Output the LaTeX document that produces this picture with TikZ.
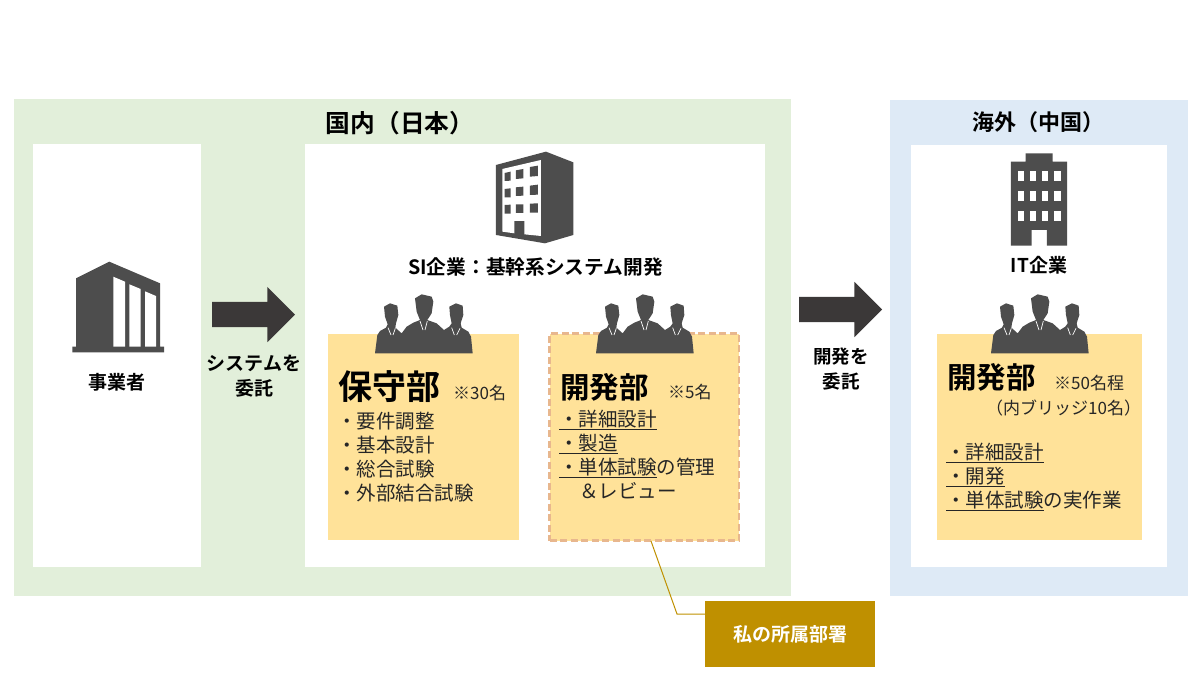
\documentclass[tikz,border=0pt]{standalone}
\usepackage{fontspec}
\setmainfont{Noto Sans CJK JP}[BoldFont={Noto Sans CJK JP Bold}]
\usetikzlibrary{shapes.arrows}
\definecolor{grnbg}{HTML}{E2EFDA}
\definecolor{blubg}{HTML}{DEEAF6}
\definecolor{yel}{HTML}{FFE299}
\definecolor{icon}{HTML}{4D4D4D}
\definecolor{arrowc}{HTML}{3B3838}
\definecolor{gold}{HTML}{BF9000}
\definecolor{dashc}{HTML}{E8B78E}
\newcommand\ulp[1]{\setbox0\hbox{#1}\rlap{\vrule height -2.2pt depth 3.4pt width \wd0}\box0}
\tikzset{
  panel/.style={fill=#1,draw=none,inner sep=0,outer sep=0,anchor=north west},
  rg/.style={font=\fontsize{#1}{#1}\selectfont,inner sep=0,text=black!85},
  bd/.style={font=\bfseries\fontsize{#1}{#1}\selectfont,inner sep=0,text=black},
  blockarrow/.style={single arrow,fill=arrowc,draw=none,inner xsep=0,inner ysep=12.5pt,outer sep=0,minimum width=55pt,minimum height=83pt,
    single arrow head extend=15pt,single arrow head indent=0pt,anchor=tail},
  listblock/.style={rg=19.5,anchor=north west,align=left,font=\fontsize{19.5}{24}\selectfont},
  leader/.style={draw=gold,line width=1pt},
  pics/people/.style={code={
    \begin{scope}[x=.3333pt,y=-.3333pt,shift={(-15,-27)}]
    \fill[icon] (15,205) -- (22,150) -- (30,138) -- (48,128) -- (53,118) -- (45,95) -- (42,65) -- (60,55) -- (82,62)
      -- (85,90) -- (78,115) -- (76,128) -- (95,145) -- (110,125) -- (130,113) -- (150,105) -- (140,80) -- (135,40)
      -- (155,28) -- (185,35) -- (190,50) -- (185,85) -- (172,105) -- (200,115) -- (222,135) -- (238,125) -- (245,115)
      -- (240,90) -- (238,65) -- (258,55) -- (278,62) -- (280,90) -- (272,115) -- (275,128) -- (295,140) -- (303,155)
      -- (308,205) -- cycle;
    \draw[white,line width=.7pt] (54,128) -- (63,150) (76,130) -- (69,150)
      (150,108) -- (159,135) (172,108) -- (165,135)
      (245,128) -- (253,150) (270,130) -- (260,150);
    \end{scope}
  }}
}
\begin{document}
\begin{tikzpicture}[x=1pt,y=-1pt]
\useasboundingbox (0,0) rectangle (1200,675);
% panels
\fill[grnbg] (14,99) rectangle (791,596);
\fill[blubg] (890,100) rectangle (1188,596);
\fill[white] (33,144) rectangle (201,567);
\fill[white] (305,144) rectangle (765,567);
\fill[white] (911,145) rectangle (1167,567);
\node[panel=yel,minimum width=191pt,minimum height=206pt] (maint) at (328,334) {};
\node[panel=yel,minimum width=189.5pt,minimum height=207pt,draw=dashc,line width=2.6pt,dash pattern=on 7pt off 3.5pt] (dev) at (549.5,333.5) {};
\node[panel=yel,minimum width=205pt,minimum height=206pt] (devcn) at (937,334) {};
\node[panel=gold,minimum width=170pt,minimum height=66pt] (mine) at (705,601) {};
% leader
\coordinate (ldstart) at (651,541);
\coordinate (ldbend) at (677,614);
\draw[leader] (ldstart) -- (ldbend) -- (ldbend -| mine.west);
% arrows
\node[blockarrow] (arrA) at (212,314.5) {};
\node[blockarrow] (arrB) at (799,309.5) {};
% building left
\fill[icon] (76,278.3) -- (109.3,261.7) -- (160,283.3) -- (160,346.7) -- (164,346.7) -- (164,352.3) -- (72.3,352.3) -- (72.3,346.7) -- (76,346.7) -- cycle;
\fill[white] (113.3,276.7) -- (125,281.7) -- (125,346.7) -- (113.3,346.7) -- cycle
  (129.3,284.3) -- (140.7,289) -- (140.7,346.7) -- (129.3,346.7) -- cycle
  (145,291.3) -- (156,296) -- (156,346.7) -- (145,346.7) -- cycle;
% building centre
\begin{scope}[x=.3333pt,y=-.3333pt,shift={(1410,435)}]
\fill[icon] (78,60) -- (228,20) -- (310,52) -- (310,270) -- (225,295) -- (78,270) -- cycle;
\fill[white] (97,72) -- (213,45) -- (213,273) -- (163,268) -- (163,228) -- (133,228) -- (133,265) -- (97,260) -- cycle;
\fill[icon] (104,84) -- (122,80) -- (122,107) -- (104,108) -- cycle
 (138,76) -- (160,72) -- (160,100) -- (138,102) -- cycle
 (180,66) -- (204,62) -- (204,93) -- (180,95) -- cycle
 (104,132) -- (122,130) -- (122,157) -- (104,157) -- cycle
 (138,127) -- (160,125) -- (160,152) -- (138,153) -- cycle
 (180,122) -- (204,119) -- (204,149) -- (180,150) -- cycle
 (104,180) -- (122,179) -- (122,206) -- (104,206) -- cycle
 (138,178) -- (160,178) -- (160,204) -- (138,204) -- cycle
 (180,176) -- (204,175) -- (204,203) -- (180,203) -- cycle;
\end{scope}
% building right
\begin{scope}[x=.3333pt,y=-.3333pt,shift={(2760,420)}]
\fill[icon] (273,65) -- (317,65) -- (317,40) -- (398,40) -- (398,65) -- (442,65) -- (442,317) -- (381,317) -- (381,270) -- (335,270) -- (335,317) -- (273,317) -- cycle;
\foreach \yy in {92,152,212}{
 \foreach \xa/\xb in {293/313,331/349,366/385,403/422}{
  \fill[white] (\xa,\yy) rectangle (\xb,\yy+31);
 }}
\end{scope}
% people
\pic (pplA) at (375,294) {people};
\pic (pplB) at (596,294) {people};
\pic (pplC) at (991,294) {people};
% headings
\node[bd=24.7] (tDom) at (400,123) {国内（日本）};
\node[bd=22] (tOver) at (1038,122) {海外（中国）};
\node[bd=19] (tBiz) at (117,382) {事業者};
\node[bd=19,align=center,font=\bfseries\fontsize{19}{25}\selectfont] (tSys) at (254,376) {システムを\\委託};
\node[bd=19.7] (tSI) at (535.5,267) {SI企業：基幹系システム開発};
\node[bd=19] (tIT) at (1039,265) {IT企業};
\node[bd=18.5,align=center,font=\bfseries\fontsize{18.5}{25}\selectfont] (tOut) at (841,369) {開発を\\委託};
\node[bd=19,text=white] (tMine) at (mine.center) {私の所属部署};
% department titles
\node[bd=34,anchor=west] (tMaint) at (338,387) {保守部};
\node[rg=17,anchor=west] (nMaint) at (453,393) {※30名};
\node[bd=29.5,anchor=west] (tDev) at (560,387) {開発部};
\node[rg=17,anchor=west] (nDev) at (668,392) {※5名};
\node[bd=29.5,anchor=west] (tCn) at (947,377) {開発部};
\node[rg=17,anchor=west] (nCn) at (1054,383) {※50名程};
\node[rg=17,anchor=west] (nCnB) at (986,408) {（内ブリッジ10名）};
% lists
\node[listblock] (lMaint) at (337,412) {・要件調整\\・基本設計\\・総合試験\\・外部結合試験};
\node[listblock] (lDev) at (559,410) {\ulp{・詳細設計}\\\ulp{・製造}\\\ulp{・単体試験}の管理\\\hspace*{20pt}＆レビュー};
\node[listblock] (lCn) at (946,443) {\ulp{・詳細設計}\\\ulp{・開発}\\\ulp{・単体試験}の実作業};
\end{tikzpicture}
\end{document}
